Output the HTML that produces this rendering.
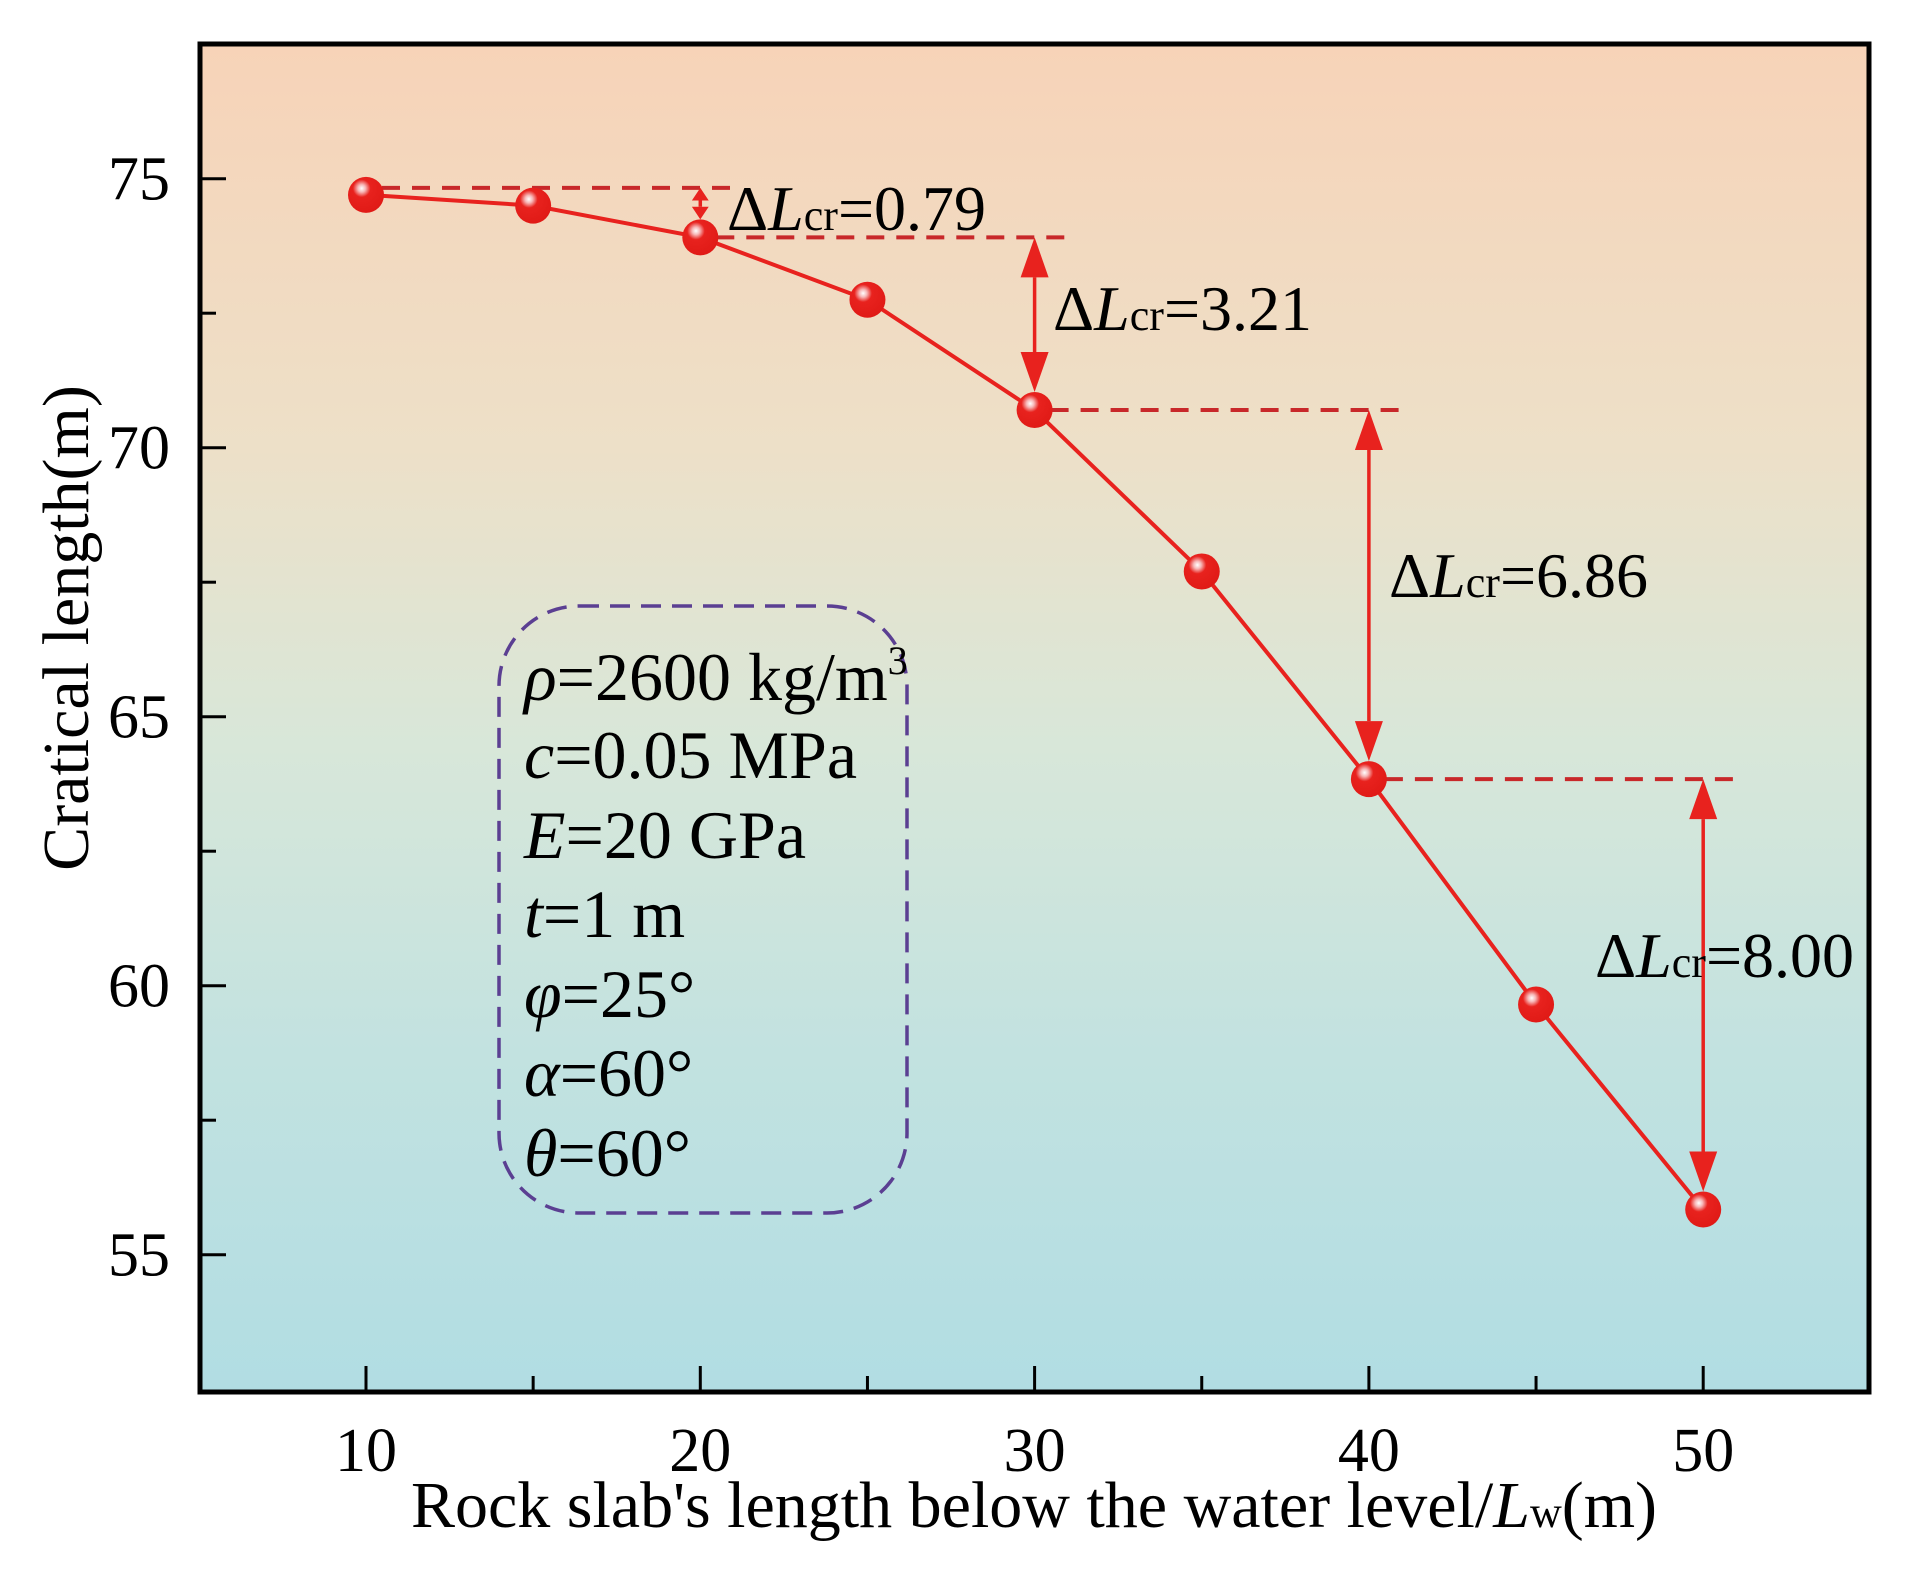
<!DOCTYPE html>
<html><head><meta charset="utf-8"><style>
html,body{margin:0;padding:0;background:#fff;}
svg{display:block;font-family:"Liberation Serif",serif;}
</style></head><body>
<svg id="chart" width="1920" height="1571" viewBox="0 0 1920 1571">
<defs>
<linearGradient id="bg" x1="0" y1="0" x2="0" y2="1">
<stop offset="0" stop-color="#f7d3b8"/>
<stop offset="0.3" stop-color="#ede0c8"/>
<stop offset="0.52" stop-color="#d8e7d9"/>
<stop offset="0.75" stop-color="#c2e2e0"/>
<stop offset="1" stop-color="#b1dde3"/>
</linearGradient>
<radialGradient id="ball" cx="0.38" cy="0.32" r="0.7">
<stop offset="0" stop-color="#ffffff"/>
<stop offset="0.15" stop-color="#f7b8b8"/>
<stop offset="0.35" stop-color="#e8221e"/>
<stop offset="1" stop-color="#e01a16"/>
</radialGradient>
</defs>
<rect x="200" y="44" width="1669" height="1348" fill="url(#bg)"/>
<g id="ticks"></g>
<g id="annos"></g>
<g id="series"></g>
<rect x="499" y="606" width="408" height="607" rx="80" ry="80" fill="none" stroke="#5b3f92" stroke-width="3.5" stroke-dasharray="20 11"/>
<g font-size="68" fill="#000">
<text x="524" y="700"><tspan font-style="italic">ρ</tspan>=2600 kg/m<tspan font-size="40" dy="-26">3</tspan></text>
<text x="524" y="778"><tspan font-style="italic">c</tspan>=0.05 MPa</text>
<text x="524" y="858"><tspan font-style="italic">E</tspan>=20 GPa</text>
<text x="524" y="937"><tspan font-style="italic">t</tspan>=1 m</text>
<text x="524" y="1017"><tspan font-style="italic">φ</tspan>=25°</text>
<text x="524" y="1096"><tspan font-style="italic">α</tspan>=60°</text>
<text x="524" y="1176"><tspan font-style="italic">θ</tspan>=60°</text>
</g>
<rect x="200" y="44" width="1669" height="1348" fill="none" stroke="#000" stroke-width="5"/>
<text x="1034" y="1527" font-size="66" text-anchor="middle">Rock slab's length below the water level/<tspan font-style="italic">L</tspan><tspan font-size="44">w</tspan>(m)</text>
<text transform="translate(88,628) rotate(-90)" font-size="66" text-anchor="middle">Cratical length(m)</text>
</svg>
<script>
const xs=[10,15,20,25,30,35,40,45,50];
const ys=[74.7,74.5,73.91,72.75,70.70,67.7,63.84,59.65,55.84];
const xTicks=[10,20,30,40,50];
const xMinor=[15,25,35,45];
const yTicks=[55,60,65,70,75];
const yMinor=[57.5,62.5,67.5,72.5];
const annTop=[74.83,73.91,70.70,63.84];
const annBottom=[73.91,70.70,63.84,55.84];
const annX=[20,30,40,50];
const annLabels=["0.79","3.21","6.86","8.00"];

const X=v=>366+(v-10)*33.43;
const Y=v=>178.7+(75-v)*53.8;
const NS="http://www.w3.org/2000/svg";
function mk(tag,attrs,parent){const e=document.createElementNS(NS,tag);for(const k in attrs)e.setAttribute(k,attrs[k]);parent.appendChild(e);return e;}
const tg=document.getElementById('ticks');
xTicks.forEach(v=>{
 const l=mk('line',{x1:X(v),x2:X(v),y1:1392,y2:1366,stroke:'#000','stroke-width':3},tg);
 
 
 const t=mk('text',{x:X(v),y:1471,'font-size':62,'text-anchor':'middle'},tg);
 t.textContent=v;
 
 
});
xMinor.forEach(v=>{
 const l=mk('line',{x1:X(v),x2:X(v),y1:1392,y2:1376,stroke:'#000','stroke-width':3},tg);
 
 
});
yTicks.forEach(v=>{
 const l=mk('line',{x1:200,x2:226,y1:Y(v),y2:Y(v),stroke:'#000','stroke-width':3},tg);
 
 
 const t=mk('text',{x:170,y:Y(v)+21,'font-size':62,'text-anchor':'end'},tg);
 t.textContent=v;
 
 
});
yMinor.forEach(v=>{
 const l=mk('line',{x1:200,x2:216,y1:Y(v),y2:Y(v),stroke:'#000','stroke-width':3},tg);
 
 
});
const ag=document.getElementById('annos');
const red='#e8221e';
annX.forEach((xv,i)=>{
 const dl=mk('line',{x1:X(xv-10)+16,x2:X(xv+1),y1:Y(annTop[i]),y2:Y(annTop[i]),stroke:'#c8282a','stroke-width':4,'stroke-dasharray':'18 12'},ag);
 
 
 const x=X(xv),y1=Y(annTop[i]),y2=Y(annBottom[i])-18;
 const span=y2-y1;
 const hl=Math.min(40,span*0.4),hw=Math.min(14,hl*0.35+4);
 const ln=mk('line',{x1:x,x2:x,y1:y1+hl,y2:y2-hl,stroke:red,'stroke-width':3.5},ag);
 
 
 const h1=mk('polygon',{points:`${x},${y1} ${x-hw},${y1+hl} ${x+hw},${y1+hl}`,fill:red},ag);
 
 
 const h2=mk('polygon',{points:`${x},${y2} ${x-hw},${y2-hl} ${x+hw},${y2-hl}`,fill:red},ag);
 
 
});
const labelPos=[[727,230],[1053,330],[1389,597],[1595,977]];
annLabels.forEach((s,i)=>{
 const t=mk('text',{x:labelPos[i][0],y:labelPos[i][1],'font-size':64},ag);
 t.innerHTML='Δ<tspan font-style="italic">L</tspan><tspan font-size="44">cr</tspan>='+s;
 
 
});
const sg=document.getElementById('series');
const pl=mk('polyline',{points:xs.map((x,i)=>X(x)+','+Y(ys[i])).join(' '),fill:'none',stroke:red,'stroke-width':4},sg);


xs.forEach((x,i)=>{
 const c=mk('circle',{cx:X(x),cy:Y(ys[i]),r:18,fill:'url(#ball)'},sg);
 
 
});
</script>
</body></html>
